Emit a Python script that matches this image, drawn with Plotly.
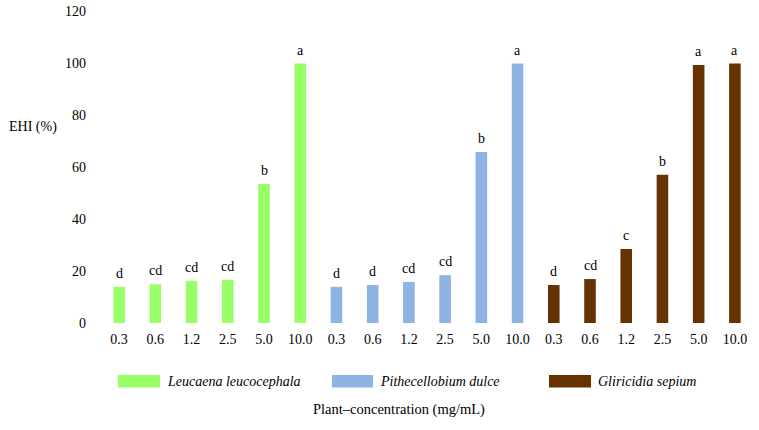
import plotly.graph_objects as go

plants = ["Leucaena leucocephala", "Pithecellobium dulce", "Gliricidia sepium"]
concentrations = ["0.3", "0.6", "1.2", "2.5", "5.0", "10.0"]
leucaena = [13.9, 14.9, 16.2, 16.6, 53.5, 99.8]
pithecellobium = [13.9, 14.6, 15.8, 18.4, 65.8, 99.8]
gliricidia = [14.6, 16.9, 28.5, 57.0, 99.2, 99.8]
letters_leucaena = ["d", "cd", "cd", "cd", "b", "a"]
letters_pithecellobium = ["d", "d", "cd", "cd", "b", "a"]
letters_gliricidia = ["d", "cd", "c", "b", "a", "a"]
colors = ["#99FF66", "#8DB4E2", "#663300"]
y_ticks = [0, 20, 40, 60, 80, 100, 120]

series = [leucaena, pithecellobium, gliricidia]
letters = [letters_leucaena, letters_pithecellobium, letters_gliricidia]

W, H = 759, 430
ML, MR, MT, MB = 101, 6, 11, 107
PW, PH = W - ML - MR, H - MT - MB

def px(x):
    return (x - ML) / PW

def py(y):
    return (H - MB - y) / PH

FONT = "'Liberation Serif', 'DejaVu Serif', 'Times New Roman', serif"

fig = go.Figure()
annotations = []
tickvals, ticktext = [], []
n = len(concentrations)
for i, (vals, col, lets) in enumerate(zip(series, colors, letters)):
    xs = [i * n + j for j in range(n)]
    tickvals += xs
    ticktext += concentrations
    fig.add_trace(go.Bar(x=xs, y=vals, marker=dict(color=col, line=dict(width=0)),
                         name=plants[i], showlegend=False, width=0.32))
    for x, v, t in zip(xs, vals, lets):
        annotations.append(dict(x=x, y=v, text=t, showarrow=False, yanchor="bottom",
                                yshift=4, font=dict(family=FONT, size=14, color="#000")))

# y axis title (horizontal)
annotations.append(dict(xref="paper", yref="paper", x=px(7), y=py(127), xanchor="left",
                        yanchor="middle", text="EHI (%)", showarrow=False,
                        font=dict(family=FONT, size=14, color="#000")))
# x axis title
annotations.append(dict(xref="paper", yref="paper", x=px(399), y=py(409), xanchor="center",
                        yanchor="middle", text="Plant–concentration (mg/mL)", showarrow=False,
                        font=dict(family=FONT, size=14.5, color="#000")))

# manual legend
legend_swatches = [(118, 160), (332, 373), (549, 591)]
shapes = []
for (x0, x1), col, name in zip(legend_swatches, colors, plants):
    shapes.append(dict(type="rect", xref="paper", yref="paper", x0=px(x0), x1=px(x1),
                       y0=py(387.5), y1=py(375), fillcolor=col, line=dict(width=0)))
    annotations.append(dict(xref="paper", yref="paper", x=px(x1 + 5), y=py(381.5),
                            xanchor="left", yanchor="middle", text="<i>" + name + "</i>",
                            showarrow=False, font=dict(family=FONT, size=14, color="#000")))

fig.update_layout(
    width=W, height=H,
    margin=dict(l=ML, r=MR, t=MT, b=MB, autoexpand=False),
    plot_bgcolor="white", paper_bgcolor="white",
    font=dict(family=FONT, size=14, color="#000"),
    annotations=annotations,
    shapes=shapes,
    xaxis=dict(range=[-0.5, 3 * n - 0.5], tickvals=tickvals, ticktext=ticktext,
               showgrid=False, zeroline=False, showline=False, ticks="",
               ticklabelstandoff=6, tickfont=dict(family=FONT, size=14)),
    yaxis=dict(range=[0, 120], tickvals=y_ticks, showgrid=False, zeroline=False,
               showline=False, ticks="", ticklabelstandoff=14,
               tickfont=dict(family=FONT, size=14)),
)

fig.write_html("out.html", config={"displayModeBar": False},
               post_script="document.body.style.margin='0';")
